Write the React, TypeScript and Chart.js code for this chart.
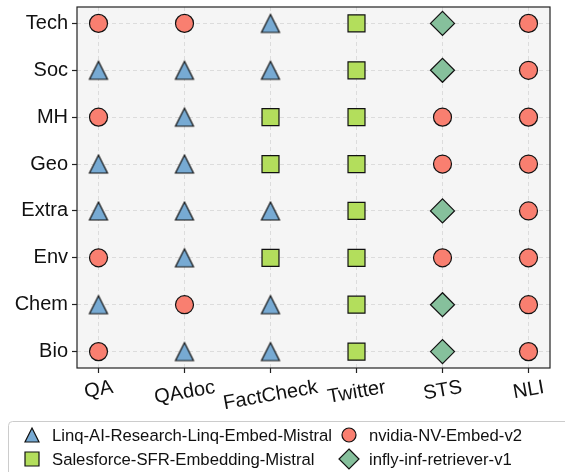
import React, { useEffect, useRef } from 'react';
import { Chart, registerables } from 'chart.js';

Chart.register(...registerables);

// ---- data ----
const domains = ['Tech', 'Soc', 'MH', 'Geo', 'Extra', 'Env', 'Chem', 'Bio'];
const tasks = ['QA', 'QAdoc', 'FactCheck', 'Twitter', 'STS', 'NLI'];

const modelKeys = ['L', 'N', 'S', 'I'];
const modelNames = [
  'Linq-AI-Research-Linq-Embed-Mistral',
  'nvidia-NV-Embed-v2',
  'Salesforce-SFR-Embedding-Mistral',
  'infly-inf-retriever-v1',
];

// best model per domain (top to bottom: Tech ... Bio) for each task
const bestQA = ['N', 'L', 'N', 'L', 'L', 'N', 'L', 'N'];
const bestQAdoc = ['N', 'L', 'L', 'L', 'L', 'L', 'N', 'L'];
const bestFactCheck = ['L', 'L', 'S', 'S', 'L', 'S', 'L', 'L'];
const bestTwitter = ['S', 'S', 'S', 'S', 'S', 'S', 'S', 'S'];
const bestSTS = ['I', 'I', 'N', 'N', 'I', 'N', 'I', 'I'];
const bestNLI = ['N', 'N', 'N', 'N', 'N', 'N', 'N', 'N'];
const bestByTask = [bestQA, bestQAdoc, bestFactCheck, bestTwitter, bestSTS, bestNLI];

// ---- styles ----
const modelColors = ['#77aad3', '#f97f70', '#b3de5c', '#86c09c'];
const modelShapes = ['triangle', 'circle', 'rect', 'rectRot'];
const modelRadius = [10.5, 9, 12, 12];
const FONT = "'Liberation Sans', Arial, sans-serif";

function triangleImage(color: string): HTMLCanvasElement {
  const c = document.createElement('canvas');
  c.width = 22;
  c.height = 22;
  const g = c.getContext('2d')!;
  g.fillStyle = color;
  g.strokeStyle = '#111';
  g.lineWidth = 1.2;
  g.lineJoin = 'miter';
  g.beginPath();
  g.moveTo(11, 2);
  g.lineTo(20, 20);
  g.lineTo(2, 20);
  g.closePath();
  g.fill();
  g.stroke();
  return c;
}

function legendGlyph(ctx: CanvasRenderingContext2D, shape: string, x: number, y: number, color: string) {
  ctx.save();
  ctx.fillStyle = color;
  ctx.strokeStyle = '#111';
  ctx.lineWidth = 1.2;
  ctx.beginPath();
  if (shape === 'triangle') {
    ctx.moveTo(x, y - 7);
    ctx.lineTo(x + 7, y + 7);
    ctx.lineTo(x - 7, y + 7);
    ctx.closePath();
  } else if (shape === 'circle') {
    ctx.arc(x, y, 7, 0, Math.PI * 2);
  } else if (shape === 'rect') {
    ctx.rect(x - 7, y - 7, 14, 14);
  } else {
    ctx.moveTo(x, y - 10);
    ctx.lineTo(x + 10, y);
    ctx.lineTo(x, y + 10);
    ctx.lineTo(x - 10, y);
    ctx.closePath();
  }
  ctx.fill();
  ctx.stroke();
  ctx.restore();
}

const decor = {
  id: 'decor',
  beforeDraw(chart: any) {
    const { ctx, chartArea: a } = chart;
    ctx.save();
    ctx.fillStyle = '#f5f5f5';
    ctx.fillRect(a.left, a.top, a.right - a.left, a.bottom - a.top);
    ctx.restore();
  },
  afterDraw(chart: any) {
    const { ctx, chartArea: a } = chart;
    ctx.save();
    // frame
    ctx.strokeStyle = '#222';
    ctx.lineWidth = 1.2;
    ctx.strokeRect(a.left, a.top, a.right - a.left, a.bottom - a.top);

    // rotated x tick labels (centered, matplotlib style)
    const xs = chart.scales.x;
    const size = 20;
    const theta = (10 * Math.PI) / 180;
    ctx.font = `${size}px ${FONT}`;
    ctx.fillStyle = '#111';
    ctx.textAlign = 'center';
    ctx.textBaseline = 'middle';
    const top = a.bottom + 5 + 2;
    tasks.forEach((t, i) => {
      const w = ctx.measureText(t).width;
      const h = size * 1.15;
      const bh = w * Math.sin(theta) + h * Math.cos(theta);
      const x = xs.getPixelForValue(i);
      ctx.save();
      ctx.translate(x, top + bh / 2);
      ctx.rotate(-theta);
      ctx.fillText(t, 0, 1);
      ctx.restore();
    });

    // legend
    const bx = 8.5, by = 421.5, bw = 600, bh2 = 80, r = 4;
    ctx.beginPath();
    ctx.moveTo(bx + r, by);
    ctx.lineTo(bx + bw - r, by);
    ctx.quadraticCurveTo(bx + bw, by, bx + bw, by + r);
    ctx.lineTo(bx + bw, by + bh2 - r);
    ctx.quadraticCurveTo(bx + bw, by + bh2, bx + bw - r, by + bh2);
    ctx.lineTo(bx + r, by + bh2);
    ctx.quadraticCurveTo(bx, by + bh2, bx, by + bh2 - r);
    ctx.lineTo(bx, by + r);
    ctx.quadraticCurveTo(bx, by, bx + r, by);
    ctx.closePath();
    ctx.fillStyle = 'rgba(255,255,255,0.9)';
    ctx.fill();
    ctx.strokeStyle = '#cccccc';
    ctx.lineWidth = 1;
    ctx.stroke();

    const order = [0, 2, 1, 3]; // column-major
    const colX = [32, 349];
    const textX = [52, 369];
    const rowY = [435, 459];
    ctx.font = `16.7px ${FONT}`;
    ctx.textAlign = 'left';
    ctx.textBaseline = 'middle';
    order.forEach((m, k) => {
      const col = Math.floor(k / 2);
      const row = k % 2;
      legendGlyph(ctx, modelShapes[m], colX[col], rowY[row], modelColors[m]);
      ctx.fillStyle = '#111';
      ctx.fillText(modelNames[m], textX[col], rowY[row] + 1);
    });
    ctx.restore();
  },
};

export default function App() {
  const ref = useRef<HTMLCanvasElement | null>(null);

  useEffect(() => {
    if (!ref.current) return;
    const datasets = modelKeys.map((key, m) => {
      const pts: { x: number; y: number }[] = [];
      bestByTask.forEach((col, t) => {
        col.forEach((k, d) => {
          if (k === key) pts.push({ x: t, y: d });
        });
      });
      const style: any = modelShapes[m] === 'triangle' ? triangleImage(modelColors[m]) : modelShapes[m];
      return {
        label: modelNames[m],
        data: pts,
        pointStyle: style,
        pointRadius: modelRadius[m],
        pointHoverRadius: modelRadius[m],
        backgroundColor: modelColors[m],
        borderColor: '#111',
        borderWidth: 1.2,
        showLine: false,
      };
    });

    const chart = new Chart(ref.current, {
      type: 'scatter',
      data: { datasets },
      options: {
        animation: false,
        responsive: false,
        devicePixelRatio: 1,
        layout: { autoPadding: false, padding: { top: 7, right: 15, left: 0, bottom: 0 } },
        plugins: { legend: { display: false }, tooltip: { enabled: false } },
        scales: {
          x: {
            type: 'linear',
            min: -0.25,
            max: 5.25,
            afterBuildTicks: (s: any) => {
              s.ticks = tasks.map((_, i) => ({ value: i }));
            },
            afterFit: (s: any) => {
              s.height = 104;
              s.paddingLeft = 0;
              s.paddingRight = 0;
            },
            ticks: { display: false },
            grid: { color: '#dcdcdc', lineWidth: 1, tickLength: 5, tickColor: '#222', tickWidth: 1.2 },
            border: { display: false, dash: [4, 3] },
          },
          y: {
            type: 'linear',
            reverse: true,
            min: -0.35,
            max: 7.35,
            afterBuildTicks: (s: any) => {
              s.ticks = domains.map((_, i) => ({ value: i }));
            },
            afterFit: (s: any) => {
              s.width = 77;
              s.paddingTop = 0;
              s.paddingBottom = 0;
            },
            ticks: {
              callback: (v: any) => domains[v as number] ?? '',
              font: { size: 20, family: FONT },
              color: '#111',
              padding: 4,
            },
            grid: { color: '#dcdcdc', lineWidth: 1, tickLength: 5, tickColor: '#222', tickWidth: 1.2 },
            border: { display: false, dash: [4, 3] },
          },
        },
      },
      plugins: [decor],
    });
    return () => chart.destroy();
  }, []);

  return (
    <div style={{ position: 'absolute', left: 0, top: 0, width: 565, height: 472, background: '#fff' }}>
      <canvas ref={ref} width={565} height={472} style={{ width: 565, height: 472, display: 'block' }} />
    </div>
  );
}
